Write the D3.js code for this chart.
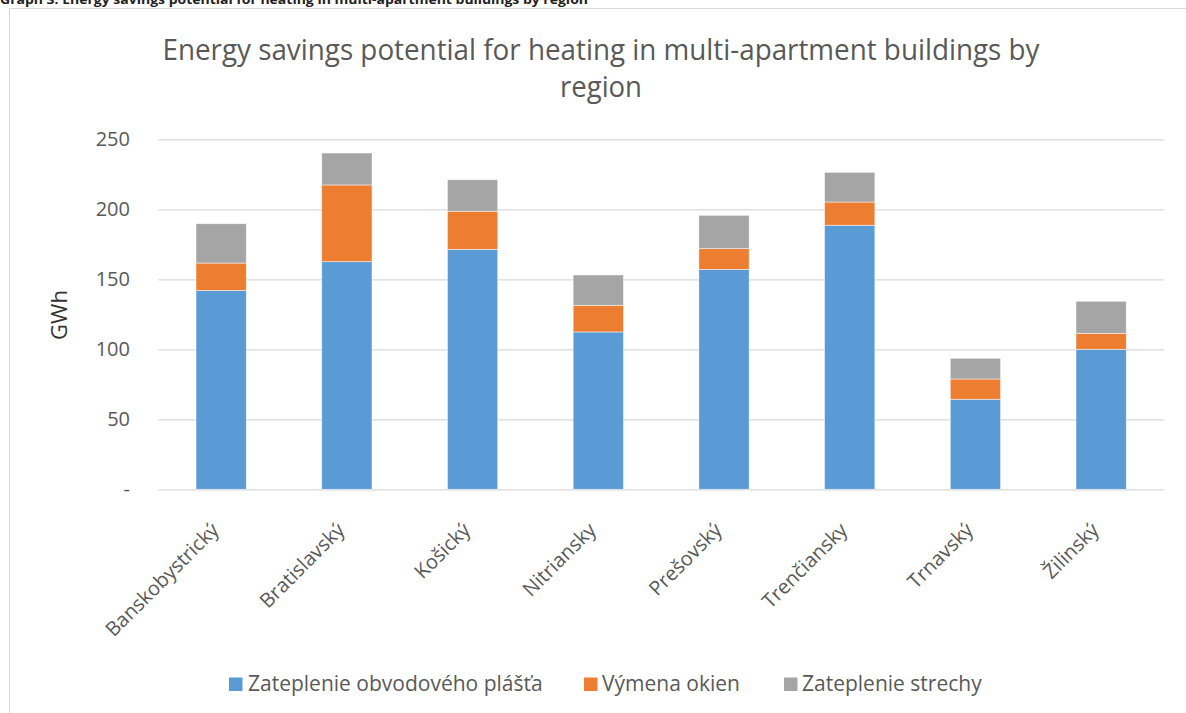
<!DOCTYPE html>
<html>
<head>
<meta charset="utf-8">
<script src="https://cdn.jsdelivr.net/npm/d3@7"></script>
<style>
  html, body { margin: 0; padding: 0; background: #fff; }
  svg { display: block; }
  text { font-family: "Open Sans", "DejaVu Sans", sans-serif; }
</style>
</head>
<body>
<svg id="chart" width="1186" height="713"></svg>
<script>
const categories = ["Banskobystrický", "Bratislavský", "Košický", "Nitriansky", "Prešovský", "Trenčiansky", "Trnavský", "Žilinský"];
const seriesNames = ["Zateplenie obvodového plášťa", "Výmena okien", "Zateplenie strechy"];
const zateplenieObvodovehoPlasta = [142.1, 162.6, 171.4, 112.4, 157.1, 188.6, 64.3, 100.0];
const vymenaOkien = [19.5, 54.8, 27.2, 19.0, 14.8, 16.6, 14.5, 11.4];
const zateplenieStrechy = [28.1, 22.8, 22.5, 21.7, 23.8, 21.2, 14.8, 22.9];
const yTicks = [0, 50, 100, 150, 200, 250];
const yTickLabels = ["-", "50", "100", "150", "200", "250"];
const colors = ["#5b9bd5", "#ed7d31", "#a5a5a5"];
const captionText = "Graph 3: Energy savings potential for heating in multi-apartment buildings by region";
const titleLines = ["Energy savings potential for heating in multi-apartment buildings by", "region"];
const yAxisTitle = "GWh";

const svg = d3.select("#chart");
const textColor = "#595959";

// caption (cropped at top in reference)
svg.append("text")
  .attr("x", 0).attr("y", 4)
  .attr("font-size", 13).attr("font-weight", "bold").attr("fill", "#222")
  .attr("textLength", 588).attr("lengthAdjust", "spacingAndGlyphs")
  .text(captionText);

// chart border
svg.append("rect")
  .attr("x", 9.5).attr("y", 8.5).attr("width", 1200).attr("height", 720)
  .attr("fill", "none").attr("stroke", "#d9d9d9").attr("stroke-width", 1);

// title
svg.append("text").attr("x", 601).attr("y", 60).attr("text-anchor", "middle")
  .attr("font-size", 30).attr("fill", textColor)
  .attr("textLength", 877).attr("lengthAdjust", "spacingAndGlyphs")
  .text(titleLines[0]);
svg.append("text").attr("x", 601).attr("y", 97).attr("text-anchor", "middle")
  .attr("font-size", 30).attr("fill", textColor)
  .attr("textLength", 82).attr("lengthAdjust", "spacingAndGlyphs")
  .text(titleLines[1]);

const x = d3.scaleBand().domain(categories).range([158.3, 1164]).paddingInner(0.6).paddingOuter(0.3);
const y = d3.scaleLinear().domain([0, 250]).range([489.3, 139.3]);

// gridlines
const grid = svg.append("g")
  .attr("transform", "translate(158.3,0)")
  .call(d3.axisLeft(y).tickValues(yTicks).tickSize(-(1164 - 158.3)).tickFormat(""));
grid.select(".domain").remove();
grid.selectAll("line").attr("stroke", "#d9d9d9").attr("stroke-width", 1.3);

// y tick labels
const yAxis = svg.append("g")
  .attr("transform", "translate(130,0)")
  .call(d3.axisLeft(y).tickValues(yTicks).tickSize(0).tickPadding(0)
    .tickFormat((d, i) => yTickLabels[i]));
yAxis.select(".domain").remove();
yAxis.selectAll("text").attr("font-size", 20).attr("fill", textColor)
  .attr("font-family", "\"Open Sans\", sans-serif");

// y axis title
svg.append("text")
  .attr("transform", "translate(67,315) rotate(-90)")
  .attr("text-anchor", "middle").attr("font-size", 22).attr("fill", "#333")
  .text(yAxisTitle);

// stacked data
const rows = categories.map((c, i) => ({
  cat: c,
  [seriesNames[0]]: zateplenieObvodovehoPlasta[i],
  [seriesNames[1]]: vymenaOkien[i],
  [seriesNames[2]]: zateplenieStrechy[i]
}));
const stacked = d3.stack().keys(seriesNames)(rows);

svg.append("g").selectAll("g").data(stacked).join("g")
  .attr("fill", (d, i) => colors[i])
  .selectAll("rect").data(d => d).join("rect")
  .attr("x", d => x(d.data.cat))
  .attr("width", x.bandwidth())
  .attr("y", d => y(d[1]))
  .attr("height", d => y(d[0]) - y(d[1]))
  .attr("stroke", "#ffffff").attr("stroke-opacity", 0.6).attr("stroke-width", 0.8);

// x axis labels
const xAxis = svg.append("g")
  .attr("transform", "translate(0,489.3)")
  .call(d3.axisBottom(x).tickSize(0).tickPadding(0));
xAxis.select(".domain").remove();
xAxis.selectAll("text")
  .attr("font-size", 20).attr("fill", textColor)
  .attr("font-family", "\"Open Sans\", sans-serif")
  .attr("text-anchor", "end")
  .attr("dy", "0")
  .attr("transform", "translate(-1,42) rotate(-45)");

// legend
const legendItems = [
  { name: seriesNames[0], sx: 229, tx: 248 },
  { name: seriesNames[1], sx: 584, tx: 602 },
  { name: seriesNames[2], sx: 784, tx: 802 }
];
const lg = svg.append("g");
legendItems.forEach((it, i) => {
  lg.append("rect").attr("x", it.sx).attr("y", 677.5).attr("width", 13.5).attr("height", 13.5).attr("fill", colors[i]);
  lg.append("text").attr("x", it.tx).attr("y", 691).attr("font-size", 21).attr("fill", textColor).text(it.name);
});
</script>
</body>
</html>
